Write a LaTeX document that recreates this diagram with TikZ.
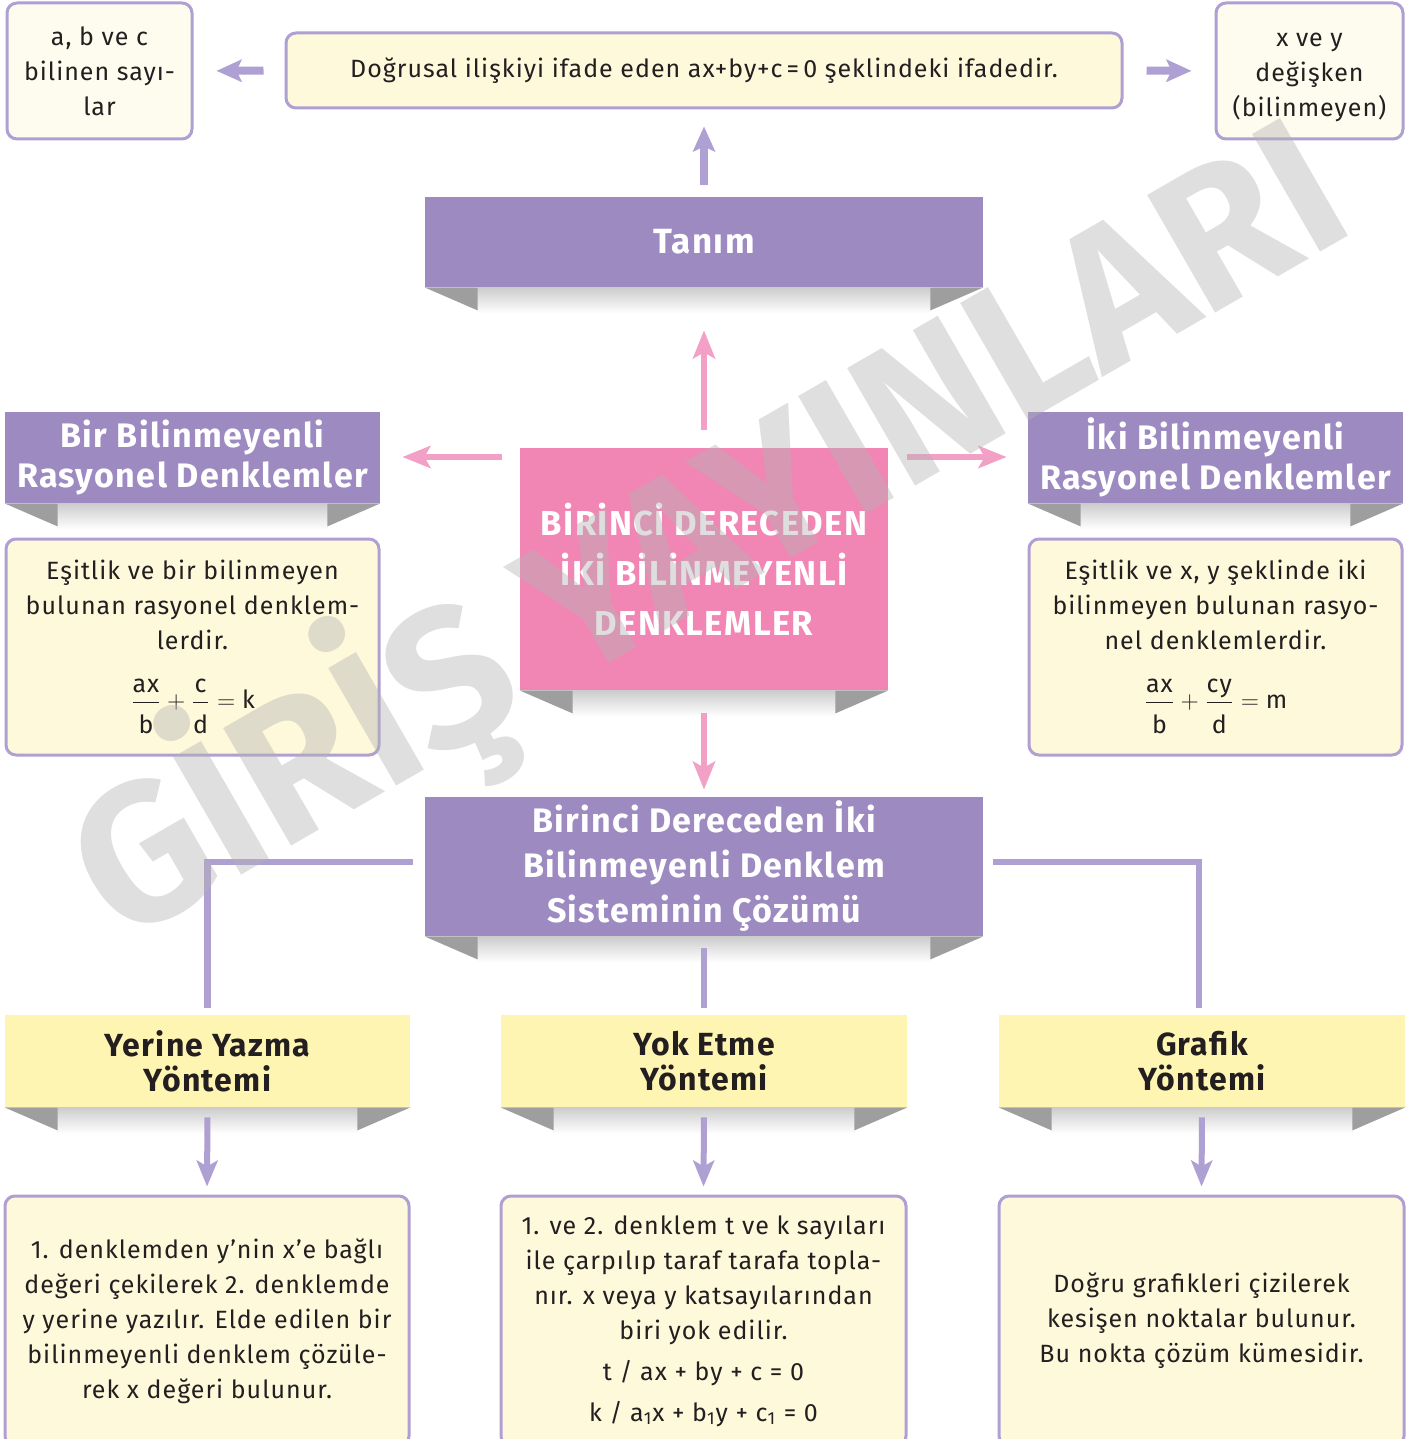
\documentclass[tikz,border=0pt]{standalone}
\usepackage{fontspec}
\setmainfont{Fira Sans}[LetterSpace=4]
\newfontfamily\wmfont{Fira Sans}
\usepackage{amsmath}
\usetikzlibrary{arrows.meta}
\definecolor{rib}{HTML}{9C8AC1}
\definecolor{lav}{HTML}{AEA0D2}
\definecolor{cream}{HTML}{FFF9DC}
\definecolor{paleb}{HTML}{FEFCEF}
\definecolor{yel}{HTML}{FFF5B2}
\definecolor{pinkbox}{HTML}{F186B5}
\definecolor{pinkarr}{HTML}{F3A0C7}
\definecolor{foldgray}{HTML}{9E9E9E}
\definecolor{ink}{HTML}{231F20}
\newcommand\ribfolds[1]{%
  \shade[top color=black!20, bottom color=white]
    ([xshift=26.5pt]#1.south west) rectangle ([xshift=-26.5pt,yshift=-13pt]#1.south east);
  \fill[foldgray] (#1.south west) -- ([xshift=26.5pt]#1.south west) -- ([xshift=26.5pt,yshift=-11.5pt]#1.south west) -- cycle;
  \fill[foldgray] (#1.south east) -- ([xshift=-26.5pt]#1.south east) -- ([xshift=-26.5pt,yshift=-11.5pt]#1.south east) -- cycle;}
\newcommand\fracnum[1]{\text{#1}\rule[-2.5pt]{0pt}{0pt}}
\newcommand\fracden[1]{\rule{0pt}{13.5pt}\text{#1}}
\begin{document}
\begin{tikzpicture}[x=0.5pt,y=-0.5pt,
  ribbon/.style={fill=rib, text=white, inner sep=0pt, align=center,
    font=\bfseries\fontsize{17}{20}\selectfont},
  yelbox/.style={fill=yel, text=ink, inner sep=0pt, align=center,
    font=\bfseries\fontsize{16}{17.5}\selectfont},
  txtbox/.style={draw=lav, line width=1.5pt, rounded corners=5pt, fill=cream, text=ink,
    inner sep=0pt, align=center, font=\fontsize{12.5}{17.5}\selectfont},
  smallbox/.style={txtbox, fill=paleb},
  toparr/.style={draw=lav, line width=4pt, -{Stealth[length=12.5pt,width=11pt,inset=2.5pt]}},
  pinkar/.style={draw=pinkarr, line width=3pt, -{Stealth[length=14pt,width=11pt,inset=3pt]}},
  downarr/.style={draw=lav, line width=3pt, -{Stealth[length=13pt,width=10.5pt,inset=3pt]}},
  conn/.style={draw=lav, line width=3.3pt}
]
\useasboundingbox (0,0) rectangle (1415,1439);
\clip (0,0) rectangle (1415,1439);

% top row
\node[smallbox, minimum width=92.5pt, minimum height=68pt] (abc) at (99.5,71)
  {a, b ve c\\bilinen sayı-\\lar};
\node[txtbox, fill=cream, minimum width=418pt, minimum height=37.5pt] (def) at (704,70.5)
  {Doğrusal ilişkiyi ifade eden ax+by+c\,=\,0 şeklindeki ifadedir.};
\node[smallbox, minimum width=93.5pt, minimum height=68pt] (xy) at (1309.5,71)
  {\rule{0pt}{13pt}x ve y\\değişken\\(bilinmeyen)};

% ribbons
\node[ribbon, minimum width=279pt, minimum height=45pt, font=\bfseries\fontsize{17.5}{20}\selectfont] (tanim) at (704,242) {Tanım};
\node[ribbon, fill=pinkbox, minimum width=184pt, minimum height=121pt,
  font=\bfseries\fontsize{17.3}{25}\selectfont] (main) at (704,569)
  {BİRİNCİ DERECEDEN\\İKİ BİLİNMEYENLİ\\DENKLEMLER};
\node[ribbon, minimum width=187.5pt, minimum height=45.5pt] (bir) at (192.5,457.5)
  {Bir Bilinmeyenli\\Rasyonel Denklemler};
\node[ribbon, minimum width=187.5pt, minimum height=45.5pt] (iki) at (1215.5,457.5)
  {İki Bilinmeyenli\\Rasyonel Denklemler};
\node[ribbon, minimum width=279pt, minimum height=69.5pt, font=\bfseries\fontsize{17}{22.5}\selectfont] (coz) at (704,866.5)
  {Birinci Dereceden İki\\Bilinmeyenli Denklem\\Sisteminin Çözümü};

% definition boxes
\node[txtbox, minimum width=186.5pt, minimum height=108pt] (birtext) at (192.5,647)
  {Eşitlik ve bir bilinmeyen\\bulunan rasyonel denklem-\\lerdir.\\[12pt]
   $\dfrac{\fracnum{ax}}{\fracden{b}}+\dfrac{\fracnum{c}}{\fracden{d}}=\text{k}$};
\node[txtbox, minimum width=186.5pt, minimum height=108pt] (ikitext) at (1215.5,647)
  {Eşitlik ve x, y şeklinde iki\\bilinmeyen bulunan rasyo-\\nel denklemlerdir.\\[12pt]
   $\dfrac{\fracnum{ax}}{\fracden{b}}+\dfrac{\fracnum{cy}}{\fracden{d}}=\text{m}$};

% method headings
\node[yelbox, minimum width=202.5pt, minimum height=46pt] (m1) at (207.5,1061) {Yerine Yazma\\Yöntemi};
\node[yelbox, minimum width=203pt, minimum height=46pt] (m2) at (704,1061) {Yok Etme\\Yöntemi};
\node[yelbox, minimum width=203pt, minimum height=46pt] (m3) at (1202,1061) {Grafik\\Yöntemi};

% method descriptions
\node[txtbox, minimum width=202pt, minimum height=125pt] (d1) at (207,1321)
  {1. denklemden y’nin x’e bağlı\\değeri çekilerek 2. denklemde\\y yerine yazılır. Elde edilen bir\\bilinmeyenli denklem çözüle-\\rek x değeri bulunur.};
\node[txtbox, minimum width=202.5pt, minimum height=125pt] (d2) at (703.5,1321)
  {1. ve 2. denklem t ve k sayıları\\ile çarpılıp taraf tarafa topla-\\nır. x veya y katsayılarından\\biri yok edilir.\\[3pt]
   t / ax + by + c = 0\\[3pt]
   k / a\textsubscript{1}x + b\textsubscript{1}y + c\textsubscript{1} = 0};
\node[txtbox, minimum width=202.5pt, minimum height=125pt] (d3) at (1201.5,1321)
  {Doğru grafikleri çizilerek\\kesişen noktalar bulunur.\\Bu nokta çözüm kümesidir.};

% folds and shadows
\ribfolds{tanim}
\ribfolds{main}
\ribfolds{bir}
\ribfolds{iki}
\ribfolds{coz}
\ribfolds{m1}
\ribfolds{m2}
\ribfolds{m3}

% top arrows
\draw[toparr, shorten <=10.5pt, shorten >=11.5pt] (def.west) -- (abc.east);
\draw[toparr, shorten <=11.5pt, shorten >=11.5pt] (def.east) -- (xy.west);
\draw[toparr, shorten <=6pt, shorten >=8.5pt] (tanim.north) -- (def.south);

% pink arrows
\draw[pinkar, shorten <=9pt, shorten >=21.5pt] (main.north) -- (tanim.south);
\draw[pinkar, shorten <=9pt, shorten >=11pt] (main.west) ++(0,-112) coordinate (mw) -- (mw -| bir.east);
\draw[pinkar, shorten <=9.5pt, shorten >=10.5pt] (main.east) ++(0,-112) coordinate (me) -- (me -| iki.west);
\draw[pinkar, shorten <=11.5pt, shorten >=3.5pt] (main.south) -- (coz.north);

% connectors to methods
\draw[conn] ([xshift=-6pt,yshift=2.2pt]coz.west) -| ([yshift=3.5pt]m1.north);
\draw[conn] ([yshift=-6pt]coz.south) -- ([yshift=3.5pt]m2.north);
\draw[conn] ([xshift=5pt,yshift=2.2pt]coz.east) -| ([xshift=-1.5pt,yshift=3.5pt]m3.north);

% method arrows
\draw[downarr, shorten <=5pt, shorten >=4pt] (m1.south) -- (d1.north);
\draw[downarr, shorten <=5pt, shorten >=4pt] (m2.south) -- (d2.north);
\draw[downarr, shorten <=5pt, shorten >=4pt] (m3.south) -- (d3.north);

% watermark
\node[rotate=30, text=black!30, opacity=0.42, inner sep=0pt,
  font=\wmfont\bfseries\fontsize{98}{98}\selectfont] (wm) at (707,530) {GİRİŞ YAYINLARI};
\end{tikzpicture}
\end{document}
